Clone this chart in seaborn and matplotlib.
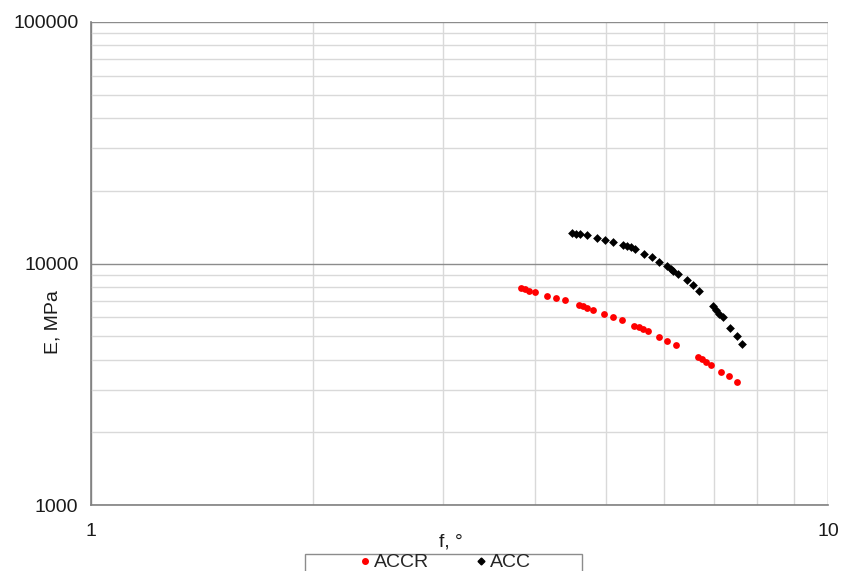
import matplotlib
matplotlib.use("Agg")
import matplotlib.pyplot as plt
import matplotlib.ticker as mticker
from matplotlib.lines import Line2D
from matplotlib.patches import Rectangle
import seaborn as sns
import pandas as pd

# ACCR series (red circles)
accr_f = [3.828, 3.880, 3.933, 4.004, 4.161, 4.275, 4.398, 4.593, 4.656, 4.714,
          4.793, 4.967, 5.113, 5.249, 5.461, 5.541, 5.605, 5.694, 5.903, 6.053,
          6.214, 6.656, 6.740, 6.825, 6.932, 7.157, 7.346, 7.532]
accr_E = [7880, 7805, 7710, 7607, 7322, 7184, 7028, 6720, 6655, 6573,
          6431, 6190, 6016, 5846, 5500, 5433, 5366, 5230, 4971, 4799,
          4589, 4109, 4004, 3903, 3793, 3561, 3415, 3236]

# ACC series (black diamonds)
acc_f = [4.489, 4.550, 4.607, 4.705, 4.864, 4.982, 5.113, 5.276, 5.332, 5.404,
         5.472, 5.633, 5.765, 5.904, 6.041, 6.117, 6.167, 6.264, 6.432, 6.553,
         6.690, 6.976, 7.047, 7.120, 7.196, 7.362, 7.518, 7.651]
acc_E = [13400, 13310, 13220, 13100, 12810, 12490, 12250, 11950, 11790, 11650,
         11430, 10970, 10590, 10190, 9810, 9508, 9292, 9066, 8528, 8108,
         7657, 6654, 6405, 6190, 5976, 5417, 5000, 4633]

series_names = ["ACCR", "ACC"]
x_ticks = [1, 10]
y_ticks = [1000, 10000, 100000]

df = pd.DataFrame({
    "f": accr_f + acc_f,
    "E": accr_E + acc_E,
    "series": [series_names[0]] * len(accr_f) + [series_names[1]] * len(acc_f),
})

sns.set_style("white")
plt.rcParams["font.family"] = ["Liberation Sans", "DejaVu Sans"]

W, H = 841, 571
fig = plt.figure(figsize=(W / 100, H / 100), dpi=100)
ax = fig.add_axes([91 / W, 1 - 505 / H, (828 - 91) / W, (505 - 22) / H])

ax.set_xscale("log")
ax.set_yscale("log")
ax.set_xlim(1, 10)
ax.set_ylim(1000, 100000)

# grid
ax.set_axisbelow(True)
ax.yaxis.set_minor_locator(mticker.LogLocator(base=10, subs=range(2, 10), numticks=20))
ax.xaxis.set_minor_locator(mticker.LogLocator(base=10, subs=range(2, 10), numticks=20))
ax.xaxis.set_minor_formatter(mticker.NullFormatter())
ax.yaxis.set_minor_formatter(mticker.NullFormatter())
ax.grid(which="minor", axis="both", color="#d9d9d9", linewidth=1.0)
ax.grid(which="major", axis="both", color="#8c8c8c", linewidth=1.0)

sns.scatterplot(data=df[df.series == "ACCR"], x="f", y="E", color="#ff0000",
                marker="o", s=24, linewidth=0, ax=ax, legend=False, zorder=3)
sns.scatterplot(data=df[df.series == "ACC"], x="f", y="E", color="#000000",
                marker="D", s=20, linewidth=0, ax=ax, legend=False, zorder=3)

ax.set_xticks(x_ticks)
ax.set_xticklabels([str(t) for t in x_ticks])
ax.set_yticks(y_ticks)
ax.set_yticklabels([str(t) for t in y_ticks])
ax.tick_params(axis="both", which="major", length=5, width=1, color="#808080",
               labelsize=14, labelcolor="#1a1a1a", direction="out")
ax.tick_params(axis="x", which="major", pad=8)
ax.tick_params(axis="y", which="major", pad=4)
ax.tick_params(axis="both", which="minor", length=0)

for side in ["top", "right"]:
    ax.spines[side].set_visible(False)
for side in ["left", "bottom"]:
    ax.spines[side].set_color("#808080")
    ax.spines[side].set_linewidth(1.2)

ax.set_xlabel("f, °", fontsize=14, color="#1a1a1a")
ax.xaxis.set_label_coords((451 - 91) / 737, (505 - 542) / 483)
ax.xaxis.label.set_va("center")
ax.set_ylabel("E, MPa", fontsize=14, color="#1a1a1a")
ax.yaxis.set_label_coords((53 - 91) / 737, (505 - 322) / 483)
ax.yaxis.label.set_va("center")

# legend box (clipped by the bottom edge of the figure)
fig.patches.append(Rectangle((305 / W, -0.05), (582 - 305) / W, 0.05 + (1 - 554 / H),
                             transform=fig.transFigure, facecolor="white",
                             edgecolor="#8c8c8c", linewidth=1.0))
handles = [
    Line2D([], [], marker="o", color="#ff0000", linestyle="none", markersize=4),
    Line2D([], [], marker="D", color="#000000", linestyle="none", markersize=3.5),
]
fig.legend(handles, series_names, loc="center left",
           bbox_to_anchor=(360 / W, 1 - 562.5 / H), ncol=2, frameon=False,
           fontsize=14, handletextpad=0.2, columnspacing=2.45, borderpad=0,
           handlelength=0.5, borderaxespad=0)

fig.savefig("out.png", dpi=100)
